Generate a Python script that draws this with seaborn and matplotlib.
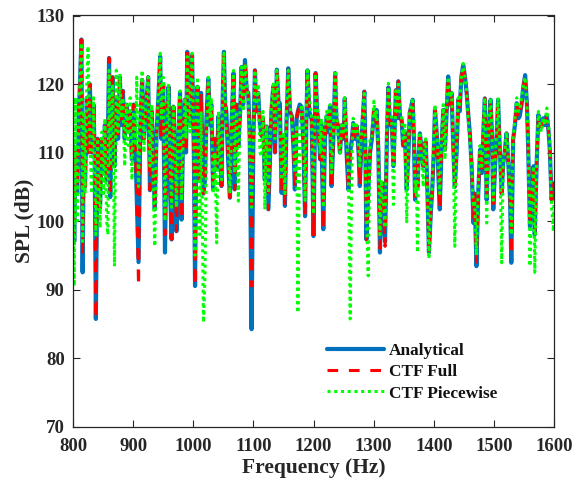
import matplotlib
matplotlib.use("Agg")
import matplotlib.pyplot as plt
import seaborn as sns
import pandas as pd

freq = [800, 802, 804, 807, 810, 814, 816, 818, 820, 823, 825, 828, 831, 834, 836, 838, 841, 845, 848, 851,
        853, 856, 858, 860, 862, 864, 866, 869, 872, 875, 878, 880, 883, 886, 889, 892, 895, 898, 901, 904,
        906, 909, 912, 915, 918, 921, 925, 928, 931, 934, 936, 939, 942, 945, 947, 950, 953, 956, 959, 961,
        964, 967, 970, 972, 975, 978, 980.5, 983, 986, 988, 990, 992, 994.5, 996, 998, 1001, 1003, 1005, 1007, 1009,
        1011, 1013, 1015, 1017, 1019.5, 1022, 1025, 1028, 1030, 1033, 1036, 1039, 1042, 1044, 1047, 1049, 1051, 1053, 1055, 1058,
        1061, 1064, 1067, 1069, 1072, 1075, 1078, 1080.5, 1083, 1086, 1089, 1091.5, 1094, 1097, 1100, 1102.6, 1105, 1108, 1111, 1113.7,
        1116, 1119, 1122, 1125, 1128, 1130, 1133, 1136, 1139, 1142, 1144, 1147, 1150, 1152.5, 1155, 1158, 1161, 1164, 1167, 1169,
        1172, 1174, 1177, 1180, 1183, 1186, 1188, 1190, 1193, 1197, 1200, 1203.5, 1206, 1208, 1211, 1213, 1216.3, 1219, 1222, 1225,
        1227.4, 1230, 1233, 1236, 1238, 1241, 1244, 1247, 1250, 1252, 1255, 1258, 1261, 1264, 1266, 1269, 1272, 1275, 1277, 1280,
        1284.5, 1286, 1288, 1291, 1294, 1297, 1300.5, 1303, 1305, 1308, 1310.5, 1313, 1315, 1317, 1319, 1322, 1324.5, 1327, 1330, 1333,
        1337, 1339, 1341, 1344, 1346.6, 1349, 1352, 1355, 1358, 1360, 1365, 1367, 1369, 1371, 1373, 1375, 1377, 1380, 1382.6, 1384.5,
        1386.5, 1389, 1392, 1395, 1397.5, 1400, 1402, 1404, 1406.4, 1408, 1410, 1413, 1415.8, 1418.6, 1421, 1424, 1427, 1429.7, 1432, 1435,
        1438, 1440.7, 1443, 1446, 1449, 1452, 1454.7, 1457, 1460, 1463, 1466, 1468, 1471, 1474, 1477, 1480, 1483, 1485, 1488, 1491,
        1494.6, 1497, 1499, 1502, 1504.6, 1507, 1510, 1513, 1515.6, 1518, 1521, 1524, 1527, 1529, 1532, 1535, 1538, 1541, 1543, 1546,
        1549, 1552, 1555, 1557, 1560, 1563, 1566, 1568, 1571, 1574, 1577, 1579, 1582, 1585, 1588, 1591, 1593, 1596, 1599, 1600]

analytical = [111, 97, 110, 104, 116, 126.5, 92.5, 112, 105, 118, 110, 120, 110, 117, 110, 85.7, 112, 102, 112, 107,
              114, 106, 112, 123.8, 103.5, 115, 121, 108, 118, 112, 121, 114, 119, 112, 117, 113, 116, 109, 117, 110,
              103.5, 94, 114, 120.6, 112, 116, 121, 104.5, 116, 107, 101.7, 113, 118, 124, 112, 120, 95.4, 114, 119.6, 106,
              97.3, 116.7, 108, 98.5, 112, 118.7, 100.2, 112, 117.7, 110, 124.7, 116, 114.3, 119, 124.2, 110, 90.5, 112, 119.6, 112,
              106, 118.7, 111, 104, 106, 115, 120.8, 114, 117, 104.6, 112, 107.5, 115.3, 111, 105.1, 118, 124.7, 117, 116, 109,
              103.4, 115, 121.6, 104.6, 117, 111, 116, 122.5, 117, 123.5, 119, 118.7, 112, 84.2, 112, 122, 116, 118.7, 114, 112.4,
              115, 106, 113.8, 101.7, 110, 116, 119.6, 110, 122.1, 117, 117.2, 104.1, 112, 102.2, 114, 122.3, 116, 115.3, 110, 104.6,
              115, 116, 117, 116.7, 112, 100.7, 114, 122, 116, 114.8, 97.8, 121.6, 116, 114.8, 109, 114, 98.8, 112, 115.3, 113,
              116.7, 105.1, 112, 121.6, 115, 113.8, 110, 114, 112, 117.9, 110, 104.6, 110, 112, 114.3, 112, 113.8, 110, 105.1, 112,
              118.9, 112, 97.3, 104, 110, 111.9, 116, 114, 116.2, 110, 95.4, 105, 105.5, 100, 97, 112, 119.5, 114, 114.8, 108,
              119.1, 115, 120.4, 115, 114.8, 111, 113, 104.6, 110, 115.8, 117.7, 112, 103.1, 108, 105, 110, 112.8, 110, 108, 110,
              111.6, 106, 95.4, 101, 104.6, 110, 116.2, 114, 110.4, 106, 101.7, 111, 116.2, 110.4, 115, 121.1, 117, 118.7, 112, 105,
              110, 117.7, 116, 121.1, 122.8, 121, 118.7, 116, 112.8, 108, 99.7, 104, 93.4, 104, 110.4, 107, 114, 117.9, 103.1, 112,
              117.7, 112, 101.7, 108, 112.4, 117.7, 110, 104, 108.5, 110, 112.8, 108.5, 103, 93.9, 111.9, 114, 117.2, 115, 115.3, 117,
              119.6, 121.3, 117, 110.9, 99.2, 104, 108, 98, 108, 115.5, 113.8, 113.8, 115, 114, 115.5, 113, 110.4, 103.1, 105.5, 104]

ctf_full = [111, 98, 110, 105, 116, 126.5, 95, 112, 105, 118, 110, 120, 110, 117, 110, 85.7, 112, 101, 112, 107,
            114, 106, 112, 123.8, 103.5, 115, 121, 108, 118, 112, 121, 114, 119, 112, 117, 113, 116, 109, 117, 110,
            103.5, 90.5, 114, 120.6, 112, 116, 121, 104.5, 116, 107, 101.7, 113, 118, 124, 112, 120, 98, 114, 119.6, 106,
            97.3, 116.7, 108, 98.5, 112, 118.7, 100.2, 112, 117.7, 110, 124.7, 116, 114.3, 119, 124.2, 110, 90.5, 112, 119.6, 112,
            106, 118.7, 111, 104, 106, 115, 120.8, 114, 117, 104.6, 112, 107.5, 115.3, 111, 105.1, 118, 124.7, 117, 116, 109,
            102.6, 115, 121.6, 104.6, 117, 111, 116, 122.5, 117, 123.5, 119, 118.7, 112, 90.5, 112, 122, 116, 118.7, 114, 112.4,
            115, 106, 113.8, 101.7, 110, 116, 119.6, 110, 122.1, 117, 117.2, 104.1, 112, 102.2, 114, 122.3, 116, 115.3, 110, 104.6,
            115, 116, 117, 116.7, 112, 100.7, 114, 122, 116, 114.8, 97.8, 121.6, 116, 114.8, 109, 114, 98.8, 112, 115.3, 113,
            116.7, 105.1, 112, 121.6, 115, 113.8, 110, 114, 112, 117.9, 110, 104.6, 110, 112, 114.3, 112, 113.8, 110, 105.1, 112,
            118.9, 112, 97.3, 104, 110, 111.9, 116, 114, 116.2, 110, 96, 105, 105.5, 100, 96.3, 112, 119.5, 114, 114.8, 108,
            119.1, 115, 120.4, 115, 114.8, 111, 113, 104.6, 110, 115.8, 117.7, 112, 103.1, 108, 105, 110, 112.8, 110, 108, 110,
            111.6, 106, 95.4, 101, 104.6, 110, 116.2, 114, 110.4, 106, 101.7, 111, 116.2, 110.4, 115, 121.1, 117, 118.7, 112, 105,
            110, 117.7, 116, 121.1, 122.8, 121, 118.7, 116, 112.8, 108, 100.5, 104, 94, 104, 110.4, 107, 114, 117.9, 103.1, 112,
            117.7, 112, 101.7, 108, 112.4, 117.7, 110, 104, 108.5, 110, 112.8, 108.5, 103, 95, 111.9, 114, 117.2, 115, 115.3, 117,
            119.6, 121.5, 117, 110.9, 99.2, 104, 108, 97.8, 108, 115.5, 113.8, 113.8, 115, 114, 115.5, 113, 110.4, 103.1, 105.5, 104]

ctf_piecewise = [113, 90.5, 118, 100, 117, 126, 97, 116, 104, 120, 125.5, 112, 104, 118, 108, 98, 112, 99, 113, 104,
                 115, 100, 98, 122, 108, 116, 120, 93.4, 122, 113, 121.5, 115, 118, 108, 117, 111, 118, 106, 116, 111,
                 121, 105, 116, 122, 110, 117, 121, 108, 117, 103, 96.3, 112, 119, 124.5, 115, 121, 100, 113, 120, 110,
                 102, 117, 110, 102, 114, 119, 103, 111, 118, 112, 124, 117, 113, 120, 124.5, 112, 95, 114, 121, 108,
                 98, 116, 100, 85.2, 92, 112, 121, 115, 118, 104, 110, 96.8, 116, 110, 106, 119, 124.5, 118, 113, 112,
                 104, 116, 122, 107, 116, 102.9, 117, 122.5, 116, 123, 120, 118, 110, 102, 113, 122, 117, 120, 110, 109.4,
                 116, 101.7, 114, 104, 112, 117, 120, 112, 122, 117, 115, 106, 113, 104, 116, 122, 117, 114, 112, 107,
                 114, 86.6, 112, 117, 114, 103, 116, 122, 118, 115, 101, 121.5, 117, 115, 110, 115, 102, 114, 116, 114,
                 117, 107, 113, 122, 117, 112, 109.9, 114, 113, 118, 112, 108, 85.7, 110, 115, 113, 114, 111, 108, 113,
                 119, 110, 101, 92, 112, 112, 117.5, 115, 116, 110, 98, 106, 104, 102, 99, 114, 120.1, 116, 115, 102.4,
                 119, 116, 120.4, 116, 115, 112, 114, 99.7, 111, 116, 118, 113, 104, 106, 95.4, 111, 113, 109, 105, 111,
                 112, 106, 94.5, 102, 105, 112, 117, 114, 111, 107, 104, 112, 117, 109, 116, 121, 118, 119, 112, 96.3,
                 111, 118, 117, 121, 123, 121, 119, 115, 112, 108, 102, 103, 95, 105, 111, 108, 115, 118, 99.7, 113,
                 118, 112, 103, 109, 113, 118, 110, 93.9, 109, 110, 113, 109, 104, 98, 112, 115, 118, 116, 116, 118,
                 120, 121, 117, 112, 93.4, 104, 108, 92.5, 108, 116, 114, 113, 115, 114, 116.5, 114, 111, 102, 98.5, 103]

df = pd.DataFrame({"freq": freq, "Analytical": analytical,
                   "CTF Full": ctf_full, "CTF Piecewise": ctf_piecewise})

sns.set_style("ticks")
plt.rcParams["font.family"] = ["Liberation Serif", "DejaVu Serif"]
plt.rcParams["font.weight"] = "bold"

fig = plt.figure(figsize=(5.75, 4.86), dpi=100)
ax = fig.add_axes([73 / 575, 1 - 426.5 / 486, (554 - 73) / 575, (426.5 - 15.5) / 486])

sns.lineplot(data=df, x="freq", y="Analytical", ax=ax, color="#0072BD", lw=3.0,
             label="Analytical", estimator=None, sort=False)
sns.lineplot(data=df, x="freq", y="CTF Full", ax=ax, color="#FF0000", lw=2.2,
             label="CTF Full", estimator=None, sort=False)
sns.lineplot(data=df, x="freq", y="CTF Piecewise", ax=ax, color="#00FF00", lw=2.2,
             label="CTF Piecewise", estimator=None, sort=False)
ax.lines[1].set_dashes([3.5, 3.5])
ax.lines[2].set_dashes([1, 1.2])

ax.set_xlim(800, 1600)
ax.set_ylim(70, 130)
ax.set_xticks(range(800, 1601, 100))
ax.set_yticks(range(70, 131, 10))
ax.tick_params(direction="in", top=True, right=True, length=5, width=0.8,
               labelsize=13.5, colors="#262626")
ax.tick_params(axis="x", pad=8.5)
ax.tick_params(axis="y", pad=6)
for lab in ax.get_xticklabels() + ax.get_yticklabels():
    lab.set_fontweight("bold")
for sp in ax.spines.values():
    sp.set_visible(True)
    sp.set_color("#262626")
    sp.set_linewidth(0.9)

ax.set_xlabel("Frequency (Hz)", fontsize=15.5, fontweight="bold", color="#262626", labelpad=2)
ax.set_ylabel("SPL (dB)", fontsize=15.5, fontweight="bold", color="#262626", labelpad=1.5)

leg = ax.legend(loc="upper left", bbox_to_anchor=(327 / 575, 1 - 343 / 486),
                bbox_transform=fig.transFigure, frameon=False, borderpad=0,
                borderaxespad=0, handlelength=3.3, handletextpad=0.3,
                labelspacing=0.3, prop={"family": "Liberation Serif", "weight": "bold", "size": 12.4})
for t in leg.get_texts():
    t.set_color("#111111")

fig.savefig("out.png", dpi=100)
